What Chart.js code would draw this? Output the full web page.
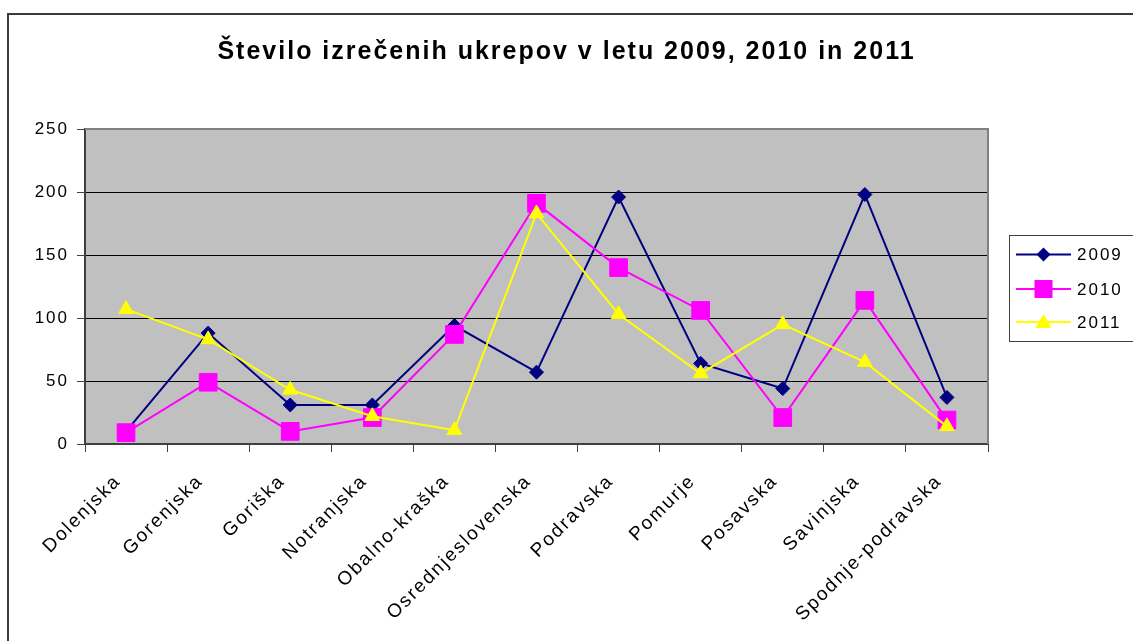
<!DOCTYPE html>
<html>
<head>
<meta charset="utf-8">
<script src="https://cdn.jsdelivr.net/npm/chart.js@4.4.1/dist/chart.umd.min.js"></script>
<style>
  html, body { margin: 0; padding: 0; background: #fff; }
  #wrap { position: relative; width: 1133px; height: 641px; overflow: hidden; }
  #frame { position: absolute; left: 7px; top: 13px; width: 1200px; height: 700px; border: 2px solid #3a3a3a; }
  #c { position: absolute; left: 0; top: 0; }
</style>
</head>
<body>
<div id="wrap">
  <div id="frame"></div>
  <canvas id="c" width="1133" height="641"></canvas>
</div>
<script>
// regije
const categories = ['Dolenjska', 'Gorenjska', 'Goriška', 'Notranjska', 'Obalno-kraška',
  'Osrednjeslovenska', 'Podravska', 'Pomurje', 'Posavska', 'Savinjska', 'Spodnje-podravska'];

// število ukrepov po letih
const values2009 = [10, 88, 31, 31, 94, 57, 196, 64, 44, 198, 37];
const values2010 = [9, 49, 10, 21, 87, 191, 140, 106, 21, 114, 19];
const values2011 = [107, 83, 43, 22, 11, 183, 103, 56, 95, 65, 14];

const yTicks = [0, 50, 100, 150, 200, 250];
const seriesNames = ['2009', '2010', '2011'];

const titleText = 'Število izrečenih ukrepov v letu 2009, 2010 in 2011';
const FONT = 'Arial, "Liberation Sans", sans-serif';

const colors = ['#000080', '#FF00FF', '#FFFF00'];
const styles = ['rectRot', 'rect', 'triangle'];

// Excel-like letter spacing
const spacingPlugin = {
  id: 'spacing',
  beforeLayout(chart) { chart.ctx.letterSpacing = '2px'; },
  beforeDraw(chart) { chart.ctx.letterSpacing = '2px'; }
};

// gray plot area
const plotBg = {
  id: 'plotBg',
  beforeDraw(chart) {
    const { ctx, chartArea: a } = chart;
    ctx.save();
    ctx.fillStyle = '#C0C0C0';
    ctx.fillRect(a.left, a.top, a.right - a.left, a.bottom - a.top);
    ctx.restore();
  },
  beforeDatasetsDraw(chart) {
    const { ctx, chartArea: a } = chart;
    ctx.save();
    ctx.strokeStyle = '#808080';
    ctx.lineWidth = 2;
    ctx.beginPath();
    ctx.moveTo(a.left, a.top);
    ctx.lineTo(a.right, a.top);
    ctx.lineTo(a.right, a.bottom);
    ctx.stroke();
    ctx.restore();
  }
};

function marker(ctx, style, x, y, color) {
  ctx.fillStyle = color;
  ctx.beginPath();
  if (style === 'rectRot') {
    ctx.moveTo(x - 7, y); ctx.lineTo(x, y - 7); ctx.lineTo(x + 7, y); ctx.lineTo(x, y + 7);
  } else if (style === 'rect') {
    ctx.rect(x - 9, y - 9, 18, 18);
  } else {
    ctx.moveTo(x, y - 8); ctx.lineTo(x + 8, y + 6); ctx.lineTo(x - 8, y + 6);
  }
  ctx.closePath();
  ctx.fill();
}

// legenda v okvirju desno
const boxLegend = {
  id: 'boxLegend',
  afterDraw(chart) {
    const ctx = chart.ctx;
    const rows = [254.5, 289, 322];
    ctx.save();
    ctx.strokeStyle = '#404040';
    ctx.lineWidth = 1;
    ctx.strokeRect(1009.5, 235.5, 140, 106);
    ctx.font = '17px ' + FONT;
    ctx.textBaseline = 'middle';
    ctx.fillStyle = '#000';
    seriesNames.forEach((name, i) => {
      const y = rows[i];
      ctx.strokeStyle = colors[i];
      ctx.lineWidth = 2;
      ctx.beginPath();
      ctx.moveTo(1016, y);
      ctx.lineTo(1071, y);
      ctx.stroke();
      marker(ctx, styles[i], 1043.5, y, colors[i]);
      ctx.fillStyle = '#000';
      ctx.fillText(name, 1077, y + 1);
    });
    ctx.restore();
  }
};

const data = [values2009, values2010, values2011];
const radii = [7, 12.5, 8.5];

new Chart(document.getElementById('c'), {
  type: 'line',
  data: {
    labels: categories,
    datasets: seriesNames.map((name, i) => ({
      label: name,
      data: data[i],
      borderColor: colors[i],
      backgroundColor: colors[i],
      borderWidth: 2,
      pointStyle: styles[i],
      pointRadius: radii[i],
      pointHoverRadius: radii[i],
      pointBorderWidth: 1,
      tension: 0,
      order: 3 - i
    }))
  },
  options: {
    responsive: false,
    devicePixelRatio: 1,
    animation: false,
    layout: { padding: 0 },
    plugins: {
      legend: { display: false },
      tooltip: { enabled: false },
      title: {
        display: true,
        text: titleText,
        color: '#000',
        font: { family: FONT, size: 25, weight: 'bold' },
        padding: { top: 37, bottom: 62 }
      }
    },
    scales: {
      x: {
        offset: true,
        grid: { offset: true, drawOnChartArea: false, drawTicks: true, tickLength: 8, color: '#404040' },
        border: { color: '#404040', width: 2 },
        ticks: {
          autoSkip: false, minRotation: 45, maxRotation: 45, padding: 18, labelOffset: -8,
          color: '#000', font: { family: FONT, size: 19 }
        },
        afterFit(s) { s.height = 197; }
      },
      y: {
        min: 0,
        max: 250,
        afterBuildTicks(s) { s.ticks = yTicks.map(v => ({ value: v })); },
        grid: {
          color: c => (c.tick && c.tick.value === 250 ? 'rgba(0,0,0,0)' : '#000'),
          tickColor: '#404040',
          tickLength: 8
        },
        border: { color: '#404040', width: 2 },
        ticks: { padding: 8, color: '#000', font: { family: FONT, size: 17 } },
        afterFit(s) { s.width = 85; }
      },
      // prazen prostor za legendo desno
      side: {
        type: 'linear',
        position: 'right',
        display: true,
        grid: { display: false, drawTicks: false },
        border: { display: false },
        ticks: { display: false },
        afterFit(s) { s.width = 145; }
      }
    }
  },
  plugins: [spacingPlugin, plotBg, boxLegend]
});
</script>
</body>
</html>
